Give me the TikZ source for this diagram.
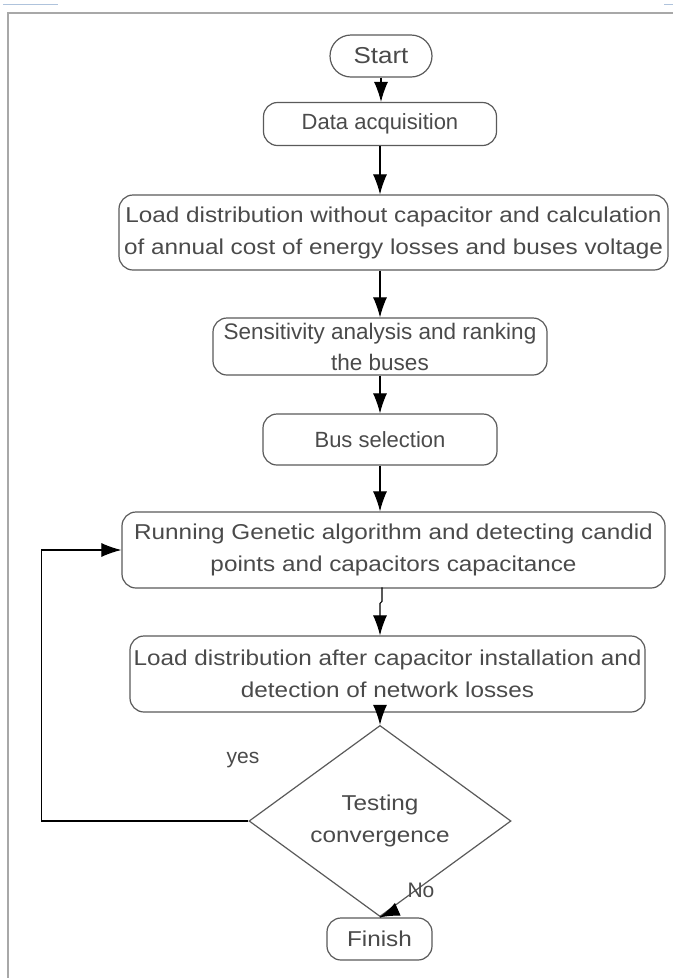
\documentclass[tikz,border=0pt]{standalone}
\usepackage{fontspec}
\setmainfont{Liberation Sans}
\newfontfamily\widesf[FakeStretch=1.13]{Liberation Sans}
\usetikzlibrary{arrows.meta,shapes.geometric,positioning}

\definecolor{boxgray}{HTML}{5A5A5A}
\definecolor{txtgray}{HTML}{4A4A4A}
\definecolor{framegray}{HTML}{A8A8A8}
\definecolor{edgeblue}{HTML}{AFC3DC}

\tikzset{
  box/.style={draw=boxgray, line width=1.2pt, rounded corners=14pt, text=txtgray,
    align=center, inner sep=0pt, font=\widesf\fontsize{21.5}{32}\selectfont},
  narrow/.style={font=\fontsize{22}{32}\selectfont},
  flow/.style={-{Latex[length=20pt,width=14pt]}, line width=1.1pt},
  lbl/.style={text=txtgray, font=\fontsize{21}{24}\selectfont}
}

\begin{document}
\begin{tikzpicture}[x=1pt, y=-1pt]
\useasboundingbox[fill=white] (0,0) rectangle (673,978);

% page frame
\draw[framegray, line width=1.6pt] (8,978) -- (8,13) -- (673,13);
\draw[edgeblue, line width=1pt] (3,4.5) -- (58,4.5);
\draw[edgeblue, line width=1pt] (664,4.5) -- (673,4.5);

\node[box, minimum width=102pt, minimum height=42pt, rounded corners=21pt,
  font=\widesf\fontsize{23}{32}\selectfont] (start) at (381,56) {Start};
\node[box, narrow, minimum width=233pt, minimum height=43pt] (data) at (380,124) {Data acquisition};
\node[box, minimum width=549pt, minimum height=75pt] (load) at (393.5,232.5)
  {Load distribution without capacitor and calculation\\of annual cost of energy losses and buses voltage};
\node[box, minimum width=334pt, minimum height=57pt, font=\fontsize{22.5}{31}\selectfont] (sens) at (380,346.5)
  {Sensitivity analysis and ranking\\the buses};
\node[box, narrow, minimum width=234pt, minimum height=51pt] (bus) at (380,439.5) {Bus selection};
\node[box, minimum width=543pt, minimum height=76pt] (ga) at (393.5,550)
  {Running Genetic algorithm and detecting candid\\points and capacitors capacitance};
\node[box, minimum width=515pt, minimum height=76pt] (after) at (387.5,674)
  {Load distribution after capacitor installation and\\detection of network losses};
\node[box, diamond, rounded corners=0pt, minimum width=262pt, minimum height=128pt] (test) at (380,821)
  {Testing\\convergence};
\node[box, minimum width=105pt, minimum height=42pt] (finish) at (379.5,939) {Finish};

\node[lbl] (yes) at (243,760) {yes};
\node[lbl] (no) at (421,890) {No};

%\draw[flow] (start) -- (data);
\draw[flow] (start.south) -- (start.south |- data.north);
\draw[flow] (data.south) -- (data.south |- load.north);
\draw[flow] (sens.north |- load.south) -- (sens.north);
\draw[flow] (sens.south) -- (bus.north);
\draw[flow] (bus.south) -- (bus.south |- ga.north);
\draw[flow] (after.north -| bus.south) ++(2,-48) -- ++(0,14) -- ++(-2,2) -- (after.north -| bus.south);
\draw[flow] (test.north |- after.south) -- (test.north);
\draw[flow] (test.west) -- ++(-207,0) |- (ga.west);
\draw[flow] (test.south) -- (finish.north);

\end{tikzpicture}
\end{document}
